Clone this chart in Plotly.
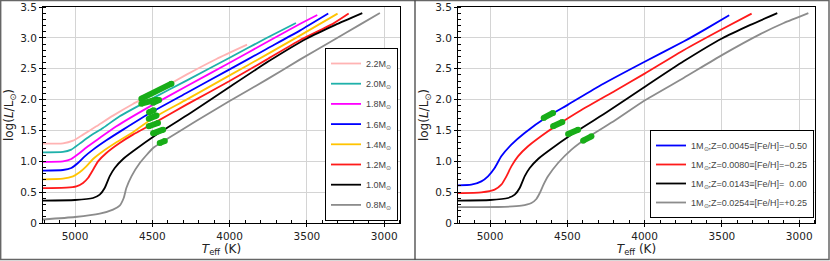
import plotly.graph_objects as go

# ---------------- data (left panel: mass tracks) ----------------
mass_labels = ["2.2M<sub>⊙</sub>", "2.0M<sub>⊙</sub>", "1.8M<sub>⊙</sub>", "1.6M<sub>⊙</sub>",
               "1.4M<sub>⊙</sub>", "1.2M<sub>⊙</sub>", "1.0M<sub>⊙</sub>", "0.8M<sub>⊙</sub>"]
mass_colors = ["#ffb3b3", "#1fb1aa", "#ff00ff", "#0000ff", "#ffc400", "#ff1a1a", "#000000", "#8c8c8c"]

T_22 = [5300, 5078, 5013, 4948, 4862, 4754, 4625, 4502, 4279, 4085, 3887]
L_22 = [1.286, 1.291, 1.334, 1.432, 1.567, 1.740, 1.929, 2.091, 2.404, 2.658, 2.890]
T_20 = [5300, 5078, 5024, 4970, 4905, 4819, 4711, 4502, 4279, 4003, 3761, 3571]
L_20 = [1.145, 1.151, 1.189, 1.286, 1.405, 1.540, 1.729, 2.015, 2.307, 2.674, 2.998, 3.241]
T_18 = [5300, 5078, 5024, 4970, 4916, 4840, 4732, 4506, 4279, 4003, 3761, 3546, 3433]
L_18 = [0.989, 0.999, 1.037, 1.135, 1.243, 1.378, 1.567, 1.902, 2.215, 2.593, 2.928, 3.225, 3.371]
T_16 = [5300, 5078, 5024, 4981, 4937, 4883, 4797, 4689, 4506, 4279, 4003, 3761, 3546, 3362]
L_16 = [0.848, 0.859, 0.891, 0.972, 1.080, 1.189, 1.340, 1.513, 1.794, 2.107, 2.485, 2.820, 3.117, 3.393]
T_14 = [5300, 5078, 5013, 4970, 4927, 4883, 4819, 4732, 4625, 4495, 4279, 4003, 3761, 3546, 3302]
L_14 = [0.702, 0.719, 0.756, 0.821, 0.918, 1.037, 1.162, 1.307, 1.469, 1.702, 1.999, 2.388, 2.728, 3.036, 3.393]
T_12 = [5300, 5056, 4991, 4948, 4916, 4883, 4851, 4797, 4711, 4625, 4495, 4279, 4003, 3761, 3546, 3330, 3230]
L_12 = [0.562, 0.573, 0.594, 0.648, 0.729, 0.864, 0.999, 1.135, 1.297, 1.432, 1.610, 1.918, 2.296, 2.647, 2.961, 3.231, 3.393]
T_10 = [5300, 5000, 4883, 4840, 4808, 4776, 4743, 4689, 4625, 4463, 4236, 4003, 3748, 3500, 3316, 3142]
L_10 = [0.362, 0.373, 0.405, 0.459, 0.567, 0.756, 0.891, 1.037, 1.162, 1.450, 1.810, 2.200, 2.620, 2.990, 3.210, 3.400]
T_08 = [5300, 5000, 4840, 4754, 4711, 4685, 4668, 4635, 4581, 4495, 4437, 4219, 4003, 3761, 3546, 3330, 3157, 3028]
L_08 = [0.040, 0.097, 0.151, 0.216, 0.281, 0.405, 0.567, 0.756, 0.972, 1.216, 1.313, 1.648, 1.972, 2.323, 2.647, 2.961, 3.214, 3.404]

mass_T = [T_22, T_20, T_18, T_16, T_14, T_12, T_10, T_08]
mass_L = [L_22, L_20, L_18, L_16, L_14, L_12, L_10, L_08]

# observed positions (short segments) on mass tracks
obs_left_T0 = [4571, 4571, 4495, 4521, 4523, 4523, 4495, 4452]
obs_left_T1 = [4376, 4473, 4456, 4491, 4473, 4463, 4430, 4419]
obs_left_L0 = [2.015, 1.934, 1.950, 1.794, 1.691, 1.567, 1.453, 1.297]
obs_left_L1 = [2.258, 1.999, 1.994, 1.826, 1.740, 1.621, 1.513, 1.329]

# ---------------- data (right panel: metallicity tracks) ----------------
z_labels = ["1M<sub>⊙</sub>;Z=0.0045≡[Fe/H]=−0.50",
            "1M<sub>⊙</sub>;Z=0.0080≡[Fe/H]=−0.25",
            "1M<sub>⊙</sub>;Z=0.0143≡[Fe/H]=  0.00",
            "1M<sub>⊙</sub>;Z=0.0254≡[Fe/H]=+0.25"]
z_colors = ["#0000ff", "#ff1a1a", "#000000", "#8c8c8c"]

T_z0045 = [5300, 5121, 5056, 5013, 4970, 4927, 4862, 4776, 4625, 4495, 4279, 4003, 3748, 3600, 3453]
L_z0045 = [0.605, 0.621, 0.675, 0.756, 0.891, 1.080, 1.270, 1.459, 1.729, 1.918, 2.240, 2.610, 2.940, 3.150, 3.366]
T_z0080 = [5300, 5056, 4970, 4927, 4894, 4862, 4819, 4754, 4625, 4560, 4409, 4193, 4000, 3748, 3500, 3308]
L_z0080 = [0.481, 0.497, 0.540, 0.621, 0.756, 0.918, 1.080, 1.243, 1.486, 1.594, 1.830, 2.140, 2.420, 2.800, 3.140, 3.393]
T_z0143 = T_10
L_z0143 = L_10
T_z0254 = [5300, 4948, 4797, 4732, 4700, 4678, 4657, 4625, 4560, 4473, 4366, 4193, 4003, 3748, 3500, 3252, 3100, 2941]
L_z0254 = [0.259, 0.259, 0.281, 0.324, 0.389, 0.486, 0.605, 0.756, 0.972, 1.190, 1.390, 1.660, 1.980, 2.350, 2.720, 3.060, 3.240, 3.400]

z_T = [T_z0045, T_z0080, T_z0143, T_z0254]
z_L = [L_z0045, L_z0080, L_z0143, L_z0254]

obs_right_T0 = [4653, 4592, 4495, 4398]
obs_right_T1 = [4592, 4532, 4430, 4344]
obs_right_L0 = [1.702, 1.567, 1.442, 1.334]
obs_right_L1 = [1.783, 1.637, 1.513, 1.405]

x_ticks = [5000, 4500, 4000, 3500, 3000]
y_ticks = [0, 0.5, 1.0, 1.5, 2.0, 2.5, 3.0, 3.5]
y_ticktext = ["0", "0.5", "1.0", "1.5", "2.0", "2.5", "3.0", "3.5"]

# ---------------- figure ----------------
W, H = 830, 261
FONT = "DejaVu Sans"
LEG_FONT = "Liberation Sans"
OBS_GREEN = "#18ad18"

fig = go.Figure()

for name, col, T, L in zip(mass_labels, mass_colors, mass_T, mass_L):
    fig.add_trace(go.Scatter(x=T, y=L, mode="lines", name=name,
                             line=dict(color=col, width=1.8, shape="spline", smoothing=0.5),
                             xaxis="x", yaxis="y", legend="legend", legendgroup=name))

for t0, t1, l0, l1 in zip(obs_left_T0, obs_left_T1, obs_left_L0, obs_left_L1):
    fig.add_trace(go.Scatter(x=[t0, t1], y=[l0, l1], mode="lines+markers", showlegend=False,
                             line=dict(color=OBS_GREEN, width=6), marker=dict(color=OBS_GREEN, size=6),
                             xaxis="x", yaxis="y"))

for name, col, T, L in zip(z_labels, z_colors, z_T, z_L):
    fig.add_trace(go.Scatter(x=T, y=L, mode="lines", name=name,
                             line=dict(color=col, width=1.8, shape="spline", smoothing=0.5),
                             xaxis="x2", yaxis="y2", legend="legend2", legendgroup=name))

for t0, t1, l0, l1 in zip(obs_right_T0, obs_right_T1, obs_right_L0, obs_right_L1):
    fig.add_trace(go.Scatter(x=[t0, t1], y=[l0, l1], mode="lines+markers", showlegend=False,
                             line=dict(color=OBS_GREEN, width=6), marker=dict(color=OBS_GREEN, size=6),
                             xaxis="x2", yaxis="y2"))

y_bottom = 1 - 223 / H
y_top = 1 - 7 / H

def xaxis_style(domain, anchor):
    return dict(domain=domain, anchor=anchor, range=[5207, 2898], tickvals=x_ticks,
                ticktext=[str(v) for v in x_ticks], ticks="outside", ticklen=3, tickcolor="black",
                showline=True, linecolor="black", linewidth=1, mirror=True,
                showgrid=True, gridcolor="#d4d4d4", gridwidth=1, zeroline=False,
                minor=dict(tickmode="linear", tick0=3000, dtick=100, ticks="inside", ticklen=3,
                           tickcolor="black", showgrid=False),
                tickfont=dict(family=FONT, size=10.5, color="#222"),
                title=dict(text="<i>T</i><sub>eff</sub> (K)", font=dict(family=FONT, size=12, color="#222"), standoff=0),
                automargin=False)

def yaxis_style(domain, anchor):
    return dict(domain=domain, anchor=anchor, range=[0, 3.5], tickvals=y_ticks, ticktext=y_ticktext,
                ticks="outside", ticklen=3, tickcolor="black",
                showline=True, linecolor="black", linewidth=1, mirror=True,
                showgrid=True, gridcolor="#d4d4d4", gridwidth=1, zeroline=False,
                minor=dict(tickmode="linear", tick0=0, dtick=0.1, ticks="inside", ticklen=3,
                           tickcolor="black", showgrid=False),
                tickfont=dict(family=FONT, size=10.5, color="#222"),
                title=dict(text="log(<i>L</i>/L<sub>⊙</sub>)", font=dict(family=FONT, size=12, color="#222"), standoff=3),
                automargin=False)

legend_common = dict(bgcolor="white", bordercolor="black", borderwidth=1,
                     font=dict(family=LEG_FONT, size=9, color="#444"), itemwidth=30)

fig.update_layout(
    width=W, height=H,
    margin=dict(l=0, r=0, t=0, b=0),
    paper_bgcolor="white", plot_bgcolor="white",
    xaxis=xaxis_style([43 / W, 400 / W], "y"),
    yaxis=yaxis_style([y_bottom, y_top], "x"),
    xaxis2=xaxis_style([458 / W, 815 / W], "y2"),
    yaxis2=yaxis_style([y_bottom, y_top], "x2"),
    legend=dict(x=398 / W, xanchor="right", y=1 - 221 / H, yanchor="bottom", tracegroupgap=1.2, **legend_common),
    legend2=dict(x=814 / W, xanchor="right", y=1 - 218 / H, yanchor="bottom", tracegroupgap=0, **legend_common),
    showlegend=True,
    shapes=[
        dict(type="rect", xref="paper", yref="paper", x0=0.0008, x1=0.9988, y0=0.006, y1=0.998,
             line=dict(color="#666", width=1.5)),
        dict(type="line", xref="paper", yref="paper", x0=415 / W, x1=415 / W, y0=0.006, y1=0.998,
             line=dict(color="#333", width=1.2)),
    ],
)

fig.write_html("out.html", config={"displayModeBar": False},
               post_script="document.body.style.margin='0';document.body.style.overflow='hidden';")
